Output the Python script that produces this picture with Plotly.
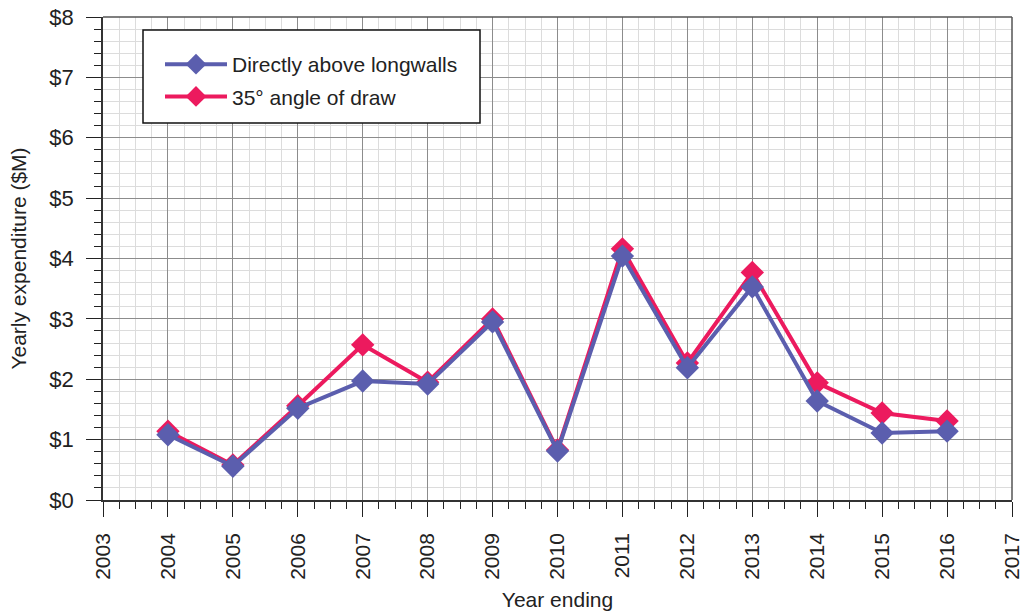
import plotly.graph_objects as go

years = [2004, 2005, 2006, 2007, 2008, 2009, 2010, 2011, 2012, 2013, 2014, 2015, 2016]
directly_above = [1.08, 0.56, 1.52, 1.97, 1.92, 2.95, 0.81, 4.04, 2.19, 3.53, 1.64, 1.11, 1.14]
angle_of_draw = [1.14, 0.58, 1.56, 2.57, 1.95, 3.00, 0.83, 4.16, 2.27, 3.77, 1.94, 1.44, 1.31]
x_ticks = list(range(2003, 2018))
y_ticks = list(range(0, 9))

BLUE = "#5B5EAE"
RED = "#EC1A5E"
FONT = "Liberation Sans, Arial, sans-serif"

L, R, T, B = 103, 10, 17, 111
PW, PH = 909, 483
W, H = L + PW + R, T + PH + B


def px_x(p):  # page x pixel -> paper fraction
    return (p - L) / PW


def px_y(p):  # page y pixel -> paper fraction
    return (T + PH - p) / PH


fig = go.Figure()
fig.add_trace(go.Scatter(
    x=years, y=angle_of_draw, name="35° angle of draw", mode="lines+markers",
    line=dict(color=RED, width=4), marker=dict(symbol="diamond", size=18, color=RED),
    legendgroup="b", legendrank=2))
fig.add_trace(go.Scatter(
    x=years, y=directly_above, name="Directly above longwalls", mode="lines+markers",
    line=dict(color=BLUE, width=4), marker=dict(symbol="diamond", size=18, color=BLUE),
    legendgroup="a", legendrank=1))

axis_common = dict(
    showgrid=True, gridcolor="#8c8c8c", gridwidth=1,
    ticks="outside", ticklen=15, tickcolor="#222", tickwidth=1,
    showline=True, linecolor="#333", linewidth=1.5, mirror=False,
    zeroline=False, automargin=False, ticklabeloverflow="allow",
)

fig.update_layout(
    template="none",
    width=W, height=H,
    margin=dict(l=L, r=R, t=T, b=B),
    paper_bgcolor="white", plot_bgcolor="white",
    font=dict(family=FONT, color="#222"),
    xaxis=dict(
        range=[2003, 2017], tickmode="array", tickvals=x_ticks,
        ticktext=[str(v) for v in x_ticks], tickangle=-90,
        tickfont=dict(family=FONT, size=21, color="#222"), ticklabelstandoff=8,
        minor=dict(dtick=0.25, showgrid=True, gridcolor="#dcdcdc", ticks="outside",
                   ticklen=7, tickcolor="#222"),
        title=dict(text="Year ending", font=dict(family=FONT, size=21, color="#222"), standoff=14),
        **axis_common),
    yaxis=dict(
        range=[0, 8], tickmode="array", tickvals=y_ticks,
        ticktext=["$" + str(v) for v in y_ticks],
        tickfont=dict(family=FONT, size=22, color="#222"), ticklabelstandoff=8,
        minor=dict(dtick=0.2, showgrid=True, gridcolor="#dcdcdc", ticks="outside",
                   ticklen=7, tickcolor="#222"),
        title=dict(text="Yearly expenditure ($M)", font=dict(family=FONT, size=21, color="#222"), standoff=17),
        **axis_common),
    showlegend=True,
    legend=dict(
        x=px_x(160), y=px_y(44), xanchor="left", yanchor="top",
        bgcolor="rgba(0,0,0,0)", borderwidth=0,
        font=dict(family=FONT, size=21, color="#222"),
        traceorder="grouped", tracegroupgap=2, itemwidth=62,
    ),
)

# legend frame
fig.add_shape(type="rect", xref="paper", yref="paper",
              x0=px_x(143), x1=px_x(480), y0=px_y(123), y1=px_y(30),
              line=dict(color="#111", width=1.5), fillcolor="white", layer="above")
# dark border on top and right edges of plotting area
fig.add_shape(type="line", xref="paper", yref="paper", x0=0, x1=1, y0=1, y1=1,
              line=dict(color="#555", width=1.5))
fig.add_shape(type="line", xref="paper", yref="paper", x0=1, x1=1, y0=0, y1=1,
              line=dict(color="#555", width=1.5))

fig.write_html(
    "out.html",
    config={"displayModeBar": False},
    post_script="document.body.style.margin='0';document.body.style.overflow='hidden';",
)
